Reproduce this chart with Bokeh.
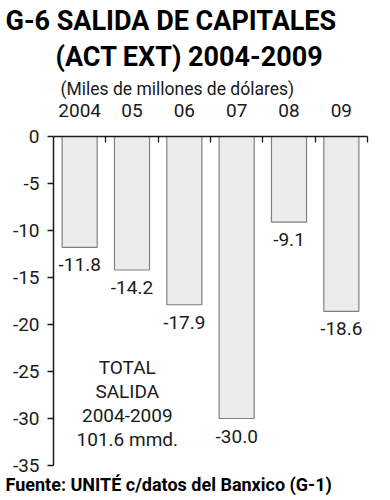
from bokeh.plotting import figure
from bokeh.models import (Range1d, LinearAxis, FixedTicker, Label, Title, ColumnDataSource)
from bokeh.core.properties import value
from bokeh.embed import file_html
from bokeh.resources import INLINE

years = ["2004", "05", "06", "07", "08", "09"]
salida = [-11.8, -14.2, -17.9, -30.0, -9.1, -18.6]
y_ticks = [0, -5, -10, -15, -20, -25, -30, -35]
title_1 = "G-6 SALIDA DE CAPITALES"
title_2 = "(ACT EXT) 2004-2009"
subtitle = "(Miles de millones de dólares)"
note_lines = ["TOTAL", "SALIDA", "2004-2009", "101.6 mmd."]
source_text = "Fuente: UNITÉ c/datos del Banxico (G-1)"

FONT = "Roboto"
INK = "#1a1a1a"

n = len(years)
centers = [i + 0.5 for i in range(n)]
bounds = [i + 1 for i in range(n)]

W, H = 390, 500
p = figure(width=W, height=H, x_range=Range1d(0, n), y_range=Range1d(-35, 0),
           x_axis_location=None, output_backend="svg", toolbar_location=None,
           min_border_left=53, min_border_right=23, min_border_top=136,
           min_border_bottom=35)
p.outline_line_color = None
p.grid.visible = False
p.background_fill_color = "white"
p.border_fill_color = "white"

src = ColumnDataSource(dict(x=centers, v=salida, lab=[f"{v:.1f}" for v in salida]))
p.vbar(x="x", top="v", bottom=0, width=0.67, source=src,
       fill_color="#ececec", line_color="#808080", line_width=1.2)
p.text(x="x", y="v", text="lab", source=src, text_align="center",
       text_baseline="top", y_offset=11, text_font=value(FONT),
       text_font_size="19px", text_color=INK)

# y axis
ya = p.yaxis[0]
ya.ticker = FixedTicker(ticks=y_ticks)
ya.major_label_overrides = {t: str(t) for t in y_ticks}
ya.major_label_text_font = FONT
ya.major_label_text_font_size = "19px"
ya.major_label_text_color = INK
ya.major_tick_out = 6
ya.major_tick_in = 0
ya.major_label_standoff = 8
ya.minor_tick_line_color = None
ya.axis_line_width = 1.5
ya.axis_line_color = INK
ya.major_tick_line_color = INK
ya.major_tick_line_width = 1.3

# top axis line with ticks between categories
tick_axis = LinearAxis(ticker=FixedTicker(ticks=bounds),
                       major_tick_in=6, major_tick_out=0,
                       major_label_overrides={b: "" for b in bounds},
                       major_label_text_font_size="1px", major_label_standoff=0,
                       axis_line_width=1.5, axis_line_color=INK,
                       major_tick_line_color=INK, major_tick_line_width=1.3,
                       minor_tick_line_color=None)
p.add_layout(tick_axis, "above")
label_axis = LinearAxis(ticker=FixedTicker(ticks=centers),
                        major_label_overrides=dict(zip(centers, years)),
                        axis_line_color=None, major_tick_line_color=None,
                        minor_tick_line_color=None,
                        major_label_standoff=14,
                        major_label_text_font=FONT,
                        major_label_text_font_size="19px",
                        major_label_text_color=INK)
p.add_layout(label_axis, "above")

# titles (stacked outward from the frame)
p.add_layout(Title(text=subtitle, align="left", offset=7, standoff=3,
                   text_font=FONT, text_font_size="17.5px", text_font_style="normal",
                   text_color=INK), "above")
p.add_layout(Title(text=title_2, align="left", offset=2, standoff=5,
                   text_font=FONT, text_font_size="27px", text_font_style="bold",
                   text_color="black"), "above")
p.add_layout(Title(text=title_1, align="left", offset=-48, standoff=0,
                   text_font=FONT, text_font_size="27px", text_font_style="bold",
                   text_color="black"), "above")
p.add_layout(Title(text=source_text, align="left", offset=-48, standoff=12,
                   text_font=FONT, text_font_size="18px", text_font_style="bold",
                   text_color="black"), "below")

# note inside plot, one label per line (24 px apart), baselines aligned
px_per_unit = 329 / 35
for i, line in enumerate(note_lines):
    p.add_layout(Label(x=1.41, y=-(231 + i * 24) / px_per_unit, text=line,
                       text_align="center", text_baseline="alphabetic",
                       text_font=FONT, text_font_size="19px", text_color=INK))

open("out.html", "w").write(file_html(p, INLINE))
